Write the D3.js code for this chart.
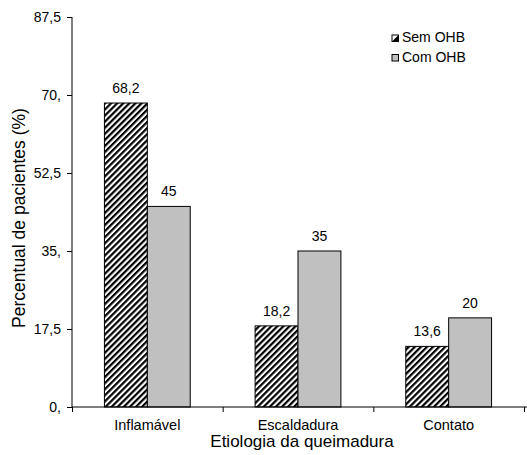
<!DOCTYPE html>
<html><head><meta charset="utf-8">
<script src="https://cdn.jsdelivr.net/npm/d3@7"></script>
<style>
body{margin:0;background:#fff;}
text{font-family:"Liberation Sans",Arial,sans-serif;fill:#000;}
</style></head>
<body><svg id="c" width="527" height="455"></svg>
<script>
const categories = ["Inflamável","Escaldadura","Contato"];
const series = ["Sem OHB","Com OHB"];
const semOHB = [68.2, 18.2, 13.6];
const comOHB = [45, 35, 20];
const valueLabels = [["68,2","18,2","13,6"],["45","35","20"]];
const yTicks = [0, 17.5, 35, 52.5, 70, 87.5];
const yTickLabels = ["0,","17,5","35,","52,5","70,","87,5"];

const svg = d3.select("#c");
const y = d3.scaleLinear().domain([0, 87.5]).range([407, 17]);
const x = d3.scaleBand().domain(categories).range([72, 524]).padding(0);
const xs = d3.scaleBand().domain(series).range([0, x.bandwidth()]).paddingInner(0).paddingOuter(0.756);
const xIdx = d3.scaleLinear().domain([0, categories.length]).range([72, 524]);

const defs = svg.append("defs");
const P = 4.3;
const pat = defs.append("pattern").attr("id","hatch").attr("patternUnits","userSpaceOnUse")
  .attr("width",P).attr("height",P).attr("patternTransform","rotate(45)");
pat.append("rect").attr("width",P).attr("height",P).attr("fill","#fff");
pat.append("rect").attr("x",0).attr("y",0).attr("width",2.2).attr("height",P).attr("fill","#000");

const data = [semOHB, comOHB];
const fills = ["url(#hatch)", "#c0c0c0"];

series.forEach((s, si) => {
  const g = svg.append("g");
  g.selectAll("rect").data(categories).join("rect")
    .attr("x", c => x(c) + xs(s))
    .attr("y", (c,i) => y(data[si][i]))
    .attr("width", xs.bandwidth())
    .attr("height", (c,i) => y(0) - y(data[si][i]))
    .attr("fill", fills[si]).attr("stroke","#000").attr("stroke-width",1);
  g.selectAll("text").data(categories).join("text")
    .attr("x", c => x(c) + xs(s) + xs.bandwidth()/2)
    .attr("y", (c,i) => y(data[si][i]) - 10)
    .attr("text-anchor","middle").attr("font-size","14px")
    .text((c,i) => valueLabels[si][i]);
});

// y axis
const ya = svg.append("g").attr("transform","translate(72,0)")
  .call(d3.axisLeft(y).tickValues(yTicks).tickSize(5).tickPadding(6)
    .tickFormat((d,i) => yTickLabels[i]));
ya.selectAll("text").attr("font-size","14px").style("font-family","Liberation Sans, Arial, sans-serif");
ya.select(".domain").attr("d", `M0,${y(87.5)}V${y(0)}`);

// x axis ticks
const xa = svg.append("g").attr("transform","translate(0,407)")
  .call(d3.axisBottom(xIdx).tickValues(d3.range(categories.length+1)).tickSize(5).tickFormat(""));
xa.select(".domain").attr("d", `M72,0H527`);
// category labels
svg.append("g").selectAll("text").data(categories).join("text")
  .attr("x", c => x(c) + x.bandwidth()/2).attr("y", 430)
  .attr("text-anchor","middle").attr("font-size","14.5px").text(c => c);

svg.append("text").attr("x", 302).attr("y", 447).attr("text-anchor","middle")
  .attr("font-size","17px").text("Etiologia da queimadura");
svg.append("text").attr("transform","translate(25,218) rotate(-90)").attr("text-anchor","middle")
  .attr("font-size","17.5px").text("Percentual de pacientes (%)");

// legend
const leg = svg.append("g");
series.forEach((s, si) => {
  const ly = 42 + si*19.5;
  leg.append("rect").attr("x",392).attr("y",ly-7).attr("width",6.5).attr("height",6.5)
    .attr("fill", si===0 ? "#fff" : "#c0c0c0").attr("stroke","#000").attr("stroke-width",1);
  if (si===0) leg.append("path").attr("d",`M392,${ly-0.5}L398.5,${ly-7}L398.5,${ly-0.5}Z`).attr("fill","#000");
  leg.append("text").attr("x",402).attr("y",ly).attr("font-size","14px").text(s);
});
</script></body></html>
